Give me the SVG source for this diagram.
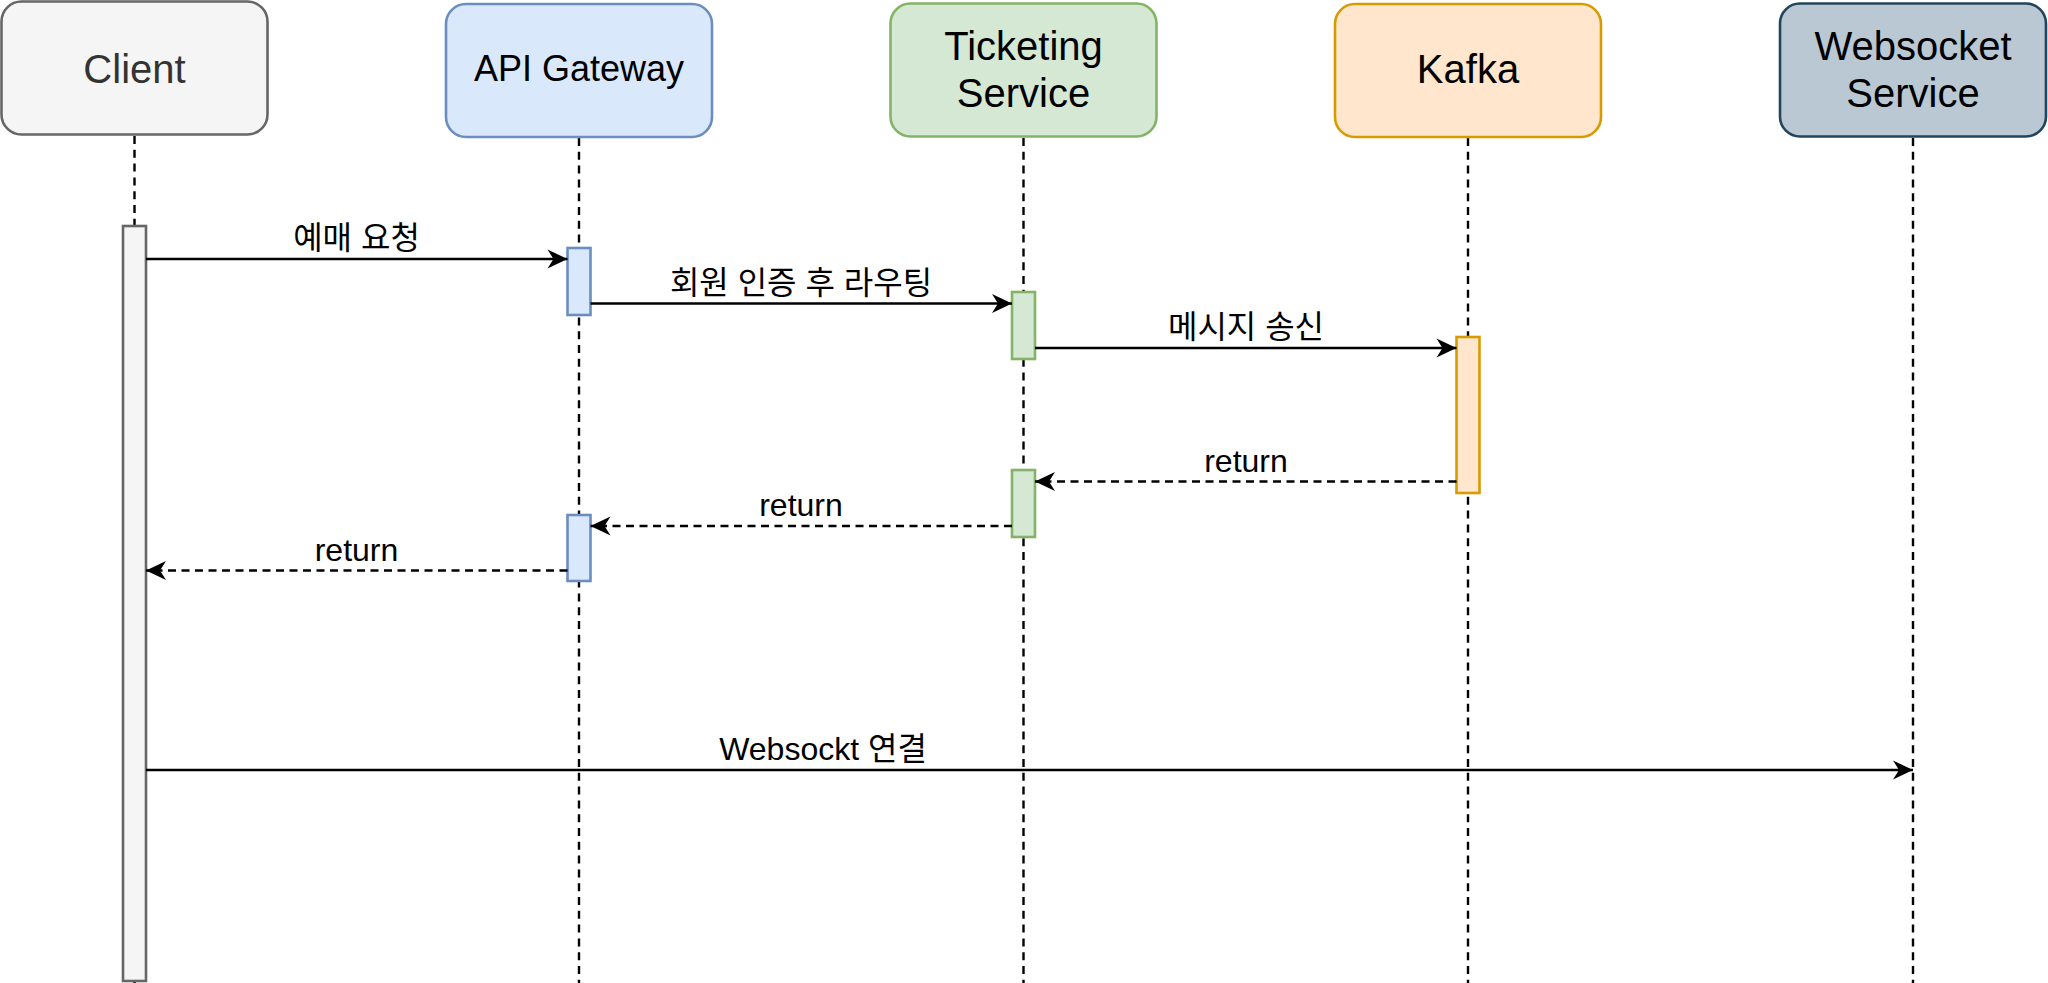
<svg xmlns="http://www.w3.org/2000/svg" width="2048" height="983" viewBox="0 0 2048 983">
<style>
.box{stroke-width:2.6}
.t{font-family:"Liberation Sans",Arial,"Noto Sans CJK KR",sans-serif;text-anchor:middle;fill:#000}
.n{font-size:40px}
.lbl{font-size:32px}
.life{stroke:#000;stroke-width:2.4;stroke-dasharray:8 5.8;fill:none}
.msg{stroke:#000;stroke-width:2.6;fill:none;marker-end:url(#ah)}
.ret{stroke:#000;stroke-width:2.6;fill:none;stroke-dasharray:8 5.5;marker-end:url(#ah)}
.act{stroke-width:2.6}
</style>
<defs>
<marker id="ah" markerUnits="userSpaceOnUse" markerWidth="24" markerHeight="24" refX="20" refY="12" orient="auto" overflow="visible">
<path d="M0,2.5 L20,12 L0,21.5 L6,12 Z" fill="#000" stroke="none"/>
</marker>
</defs>
<rect width="2048" height="983" fill="#fff"/>
<g id="lifelines">
<line class="life" x1="134.5" y1="136" x2="134.5" y2="983"/>
<line class="life" x1="579" y1="138" x2="579" y2="983"/>
<line class="life" x1="1023.5" y1="138" x2="1023.5" y2="983"/>
<line class="life" x1="1468" y1="138" x2="1468" y2="983"/>
<line class="life" x1="1913" y1="138" x2="1913" y2="983"/>
</g>
<g id="client">
<rect class="box" x="1.5" y="1.5" width="266" height="133" rx="20" fill="#f5f5f5" stroke="#666666"/>
<text class="t n" x="134.5" y="83" style="fill:#333333">Client</text>
</g>
<g id="api-gateway">
<rect class="box" x="446" y="4" width="266" height="133" rx="20" fill="#dae8fc" stroke="#6c8ebf"/>
<text class="t" x="579" y="81" font-size="36">API Gateway</text>
</g>
<g id="ticketing-service">
<rect class="box" x="890.5" y="3.5" width="266" height="133" rx="20" fill="#d5e8d4" stroke="#82b366"/>
<text class="t n" x="1023.5" y="60">Ticketing</text>
<text class="t n" x="1023.5" y="107">Service</text>
</g>
<g id="kafka">
<rect class="box" x="1335" y="4" width="266" height="133" rx="20" fill="#ffe6cc" stroke="#d79b00"/>
<text class="t n" x="1468" y="83">Kafka</text>
</g>
<g id="websocket-service">
<rect class="box" x="1780" y="3.5" width="266" height="133" rx="20" fill="#bac8d3" stroke="#23445d"/>
<text class="t n" x="1913" y="60">Websocket</text>
<text class="t n" x="1913" y="107">Service</text>
</g>
<g id="activations">
<rect class="act" x="123" y="226" width="23" height="755" fill="#f5f5f5" stroke="#666666"/>
<rect class="act" x="567.5" y="248" width="23" height="67" fill="#dae8fc" stroke="#6c8ebf"/>
<rect class="act" x="1012" y="292" width="23" height="67" fill="#d5e8d4" stroke="#82b366"/>
<rect class="act" x="1456.5" y="337" width="23" height="156" fill="#ffe6cc" stroke="#d79b00"/>
<rect class="act" x="1012" y="470" width="23" height="67" fill="#d5e8d4" stroke="#82b366"/>
<rect class="act" x="567.5" y="515" width="23" height="66" fill="#dae8fc" stroke="#6c8ebf"/>
</g>
<g id="connectors">
<line class="msg" x1="146" y1="259" x2="567.5" y2="259"/>
<line class="msg" x1="590.5" y1="303.5" x2="1012" y2="303.5"/>
<line class="msg" x1="1035" y1="348" x2="1456.5" y2="348"/>
<line class="ret" x1="1456.5" y1="481.5" x2="1035" y2="481.5"/>
<line class="ret" x1="1012" y1="526" x2="590.5" y2="526"/>
<line class="ret" x1="567.5" y1="570.5" x2="146" y2="570.5"/>
<line class="msg" x1="146" y1="770" x2="1913" y2="770"/>
</g>
<g id="labels">
<text class="t lbl" x="356.5" y="249">예매 요청</text>
<text class="t lbl" x="801" y="293.5">회원 인증 후 라우팅</text>
<text class="t lbl" x="1246" y="338">메시지 송신</text>
<text class="t lbl" x="1246" y="471.5">return</text>
<text class="t lbl" x="801" y="516">return</text>
<text class="t lbl" x="356.5" y="560.5">return</text>
<text class="t lbl" x="823" y="760">Websockt 연결</text>
</g>
</svg>
